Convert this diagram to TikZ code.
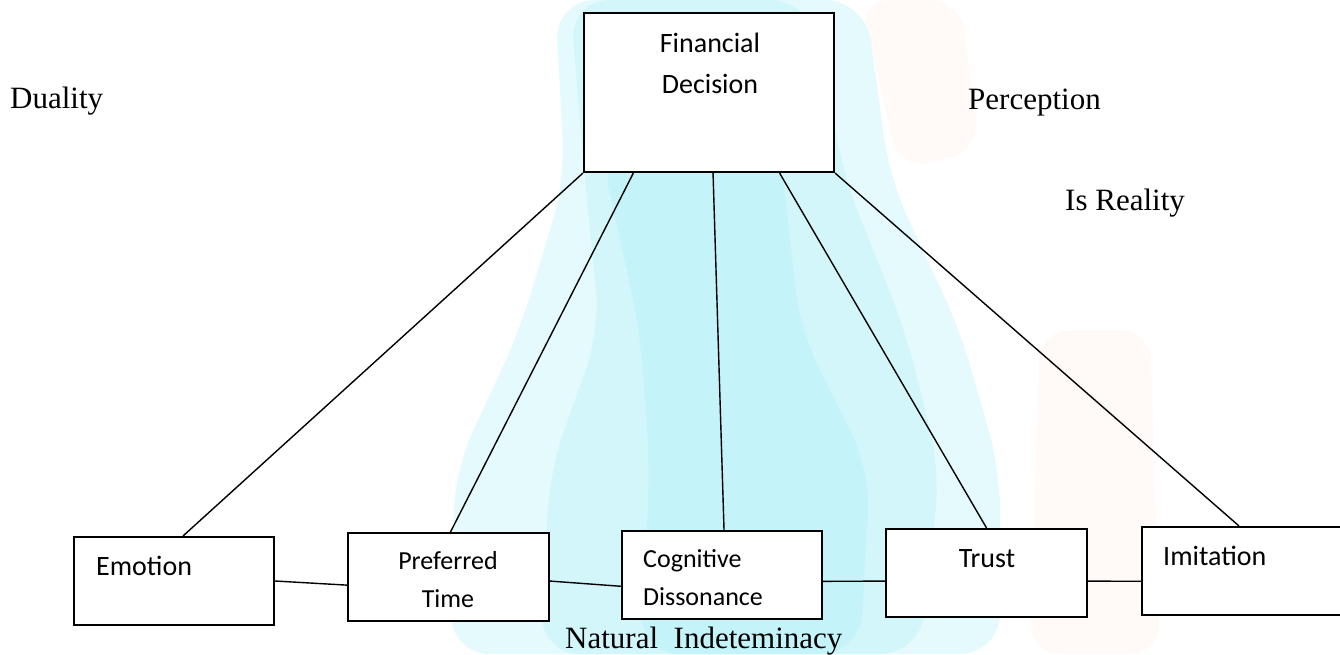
\documentclass[tikz,border=0pt]{standalone}
\usepackage{fontspec}
\setmainfont{Liberation Serif}
\newfontfamily\boxfont{Carlito}
\usetikzlibrary{calc}
\definecolor{wmlight}{RGB}{228,250,253}
\definecolor{wmmid}{RGB}{210,246,250}
\definecolor{wmdark}{RGB}{196,243,249}
\definecolor{wmpeach}{RGB}{255,250,247}
\tikzset{
  box/.style={draw=black, line width=2.2pt, fill=white, rectangle, inner sep=0pt},
  link/.style={draw=black, line width=1.4pt},
  btxt/.style={inner sep=0pt, font=\boxfont\fontsize{28}{33}\selectfont},
  stxt/.style={inner sep=0pt, font=\boxfont\fontsize{26}{31}\selectfont},
  serif/.style={inner sep=0pt, anchor=base west, font=\fontsize{31}{37}\selectfont},
}
\begin{document}
\begin{tikzpicture}[x=1pt, y=-1pt]
\useasboundingbox (0,0) rectangle (1340,654);
\fill[white] (0,0) rectangle (1340,654);
% faded background watermark
\fill[wmpeach, rounded corners=30pt] (860,0) -- (960,0) -- (980,150) -- (900,170) -- cycle;
\fill[wmpeach, rounded corners=30pt] (1040,330) -- (1150,330) -- (1160,654) -- (1030,654) -- cycle;
\fill[wmlight, rounded corners=40pt] (555,0) -- (865,0) -- (890,180) -- (960,330) -- (1000,470) -- (1000,654) -- (450,654) -- (455,470) -- (520,330) -- (565,180) -- cycle;
\fill[wmmid, rounded corners=40pt] (570,0) -- (810,0) -- (845,180) -- (905,330) -- (940,470) -- (920,654) -- (540,654) -- (550,470) -- (600,330) -- (585,180) -- cycle;
\fill[wmdark, rounded corners=40pt] (600,150) -- (780,150) -- (800,330) -- (870,470) -- (860,654) -- (640,654) -- (650,470) -- (640,330) -- cycle;

% boxes
\node[box, minimum width=250pt, minimum height=159pt] (fin) at (709,92.5) {};
\node[box, minimum width=200pt, minimum height=88pt] (emo) at (174,581) {};
\node[box, minimum width=201pt, minimum height=88pt] (pref) at (448.5,577) {};
\node[box, minimum width=200pt, minimum height=88pt] (cog) at (722,575) {};
\node[box, minimum width=201pt, minimum height=88pt] (trust) at (986.5,573) {};
\node[box, minimum width=202pt, minimum height=88pt] (imit) at (1243,571) {};

% box texts
\node[btxt, anchor=base] (finA) at (710,52) {Financial};
\node[btxt, anchor=base] (finB) at (710,93) {Decision};
\node[btxt, anchor=base west] (emoT) at (96,575) {Emotion};
\node[stxt, anchor=base] (prefA) at (448,569) {Preferred};
\node[stxt, anchor=base] (prefB) at (448,607) {Time};
\node[stxt, anchor=base west] (cogA) at (643,567) {Cognitive};
\node[stxt, anchor=base west] (cogB) at (643,605) {Dissonance};
\node[btxt, anchor=base] (trustT) at (987,567) {Trust};
\node[btxt, anchor=base west] (imitT) at (1163,565) {Imitation};

% free texts
\node[serif] (dual) at (10,108) {Duality};
\node[serif] (perc) at (968,109) {Perception};
\node[serif] (real) at (1065,210) {Is Reality};
\node[serif] (nat) at (565,648) {Natural\ \ Indeteminacy};

% connectors from the top box
\draw[link] (fin.south west) -- ($(emo.north west)!0.545!(emo.north east)$);
\draw[link] ($(fin.south west)!0.2!(fin.south east)$) -- ($(pref.north west)!0.51!(pref.north east)$);
\draw[link] ($(fin.south west)!0.516!(fin.south east)$) -- ($(cog.north west)!0.51!(cog.north east)$);
\draw[link] ($(fin.south west)!0.78!(fin.south east)$) -- ($(trust.north west)!0.5!(trust.north east)$);
\draw[link] (fin.south east) -- ($(imit.north west)!0.48!(imit.north east)$);

% horizontal chain
\draw[link] (emo.east) -- ($(pref.north west)!0.59!(pref.south west)$);
\draw[link] ($(pref.north east)!0.545!(pref.south east)$) -- ($(cog.north west)!0.625!(cog.south west)$);
\draw[link] ($(cog.north east)!0.57!(cog.south east)$) -- ($(trust.north west)!0.59!(trust.south west)$);
\draw[link] ($(trust.north east)!0.59!(trust.south east)$) -- ($(imit.north west)!0.614!(imit.south west)$);
\end{tikzpicture}
\end{document}
